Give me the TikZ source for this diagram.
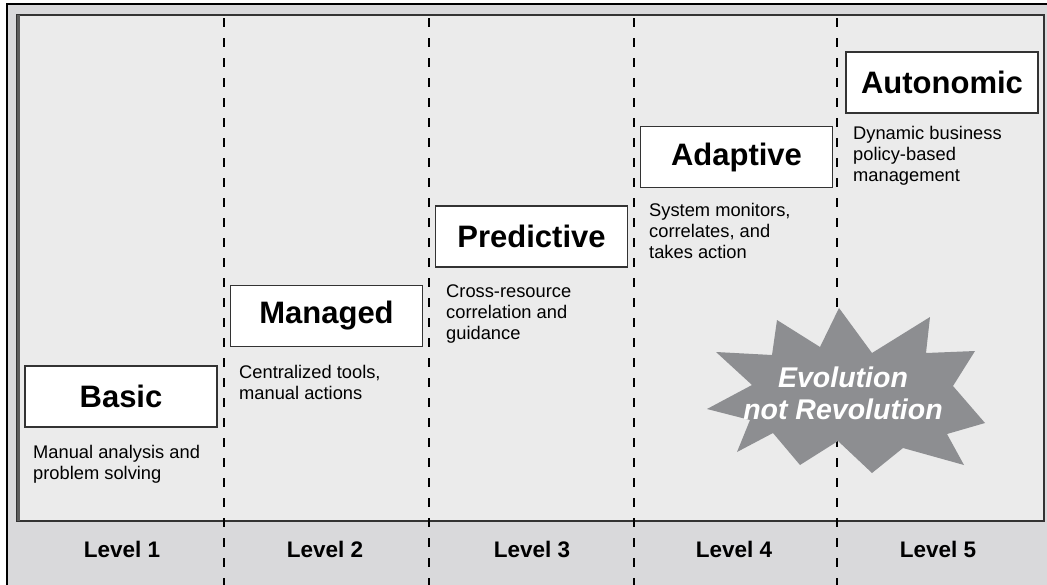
\documentclass[tikz,border=0pt]{standalone}
\usepackage{fontspec}
\setmainfont{Liberation Sans}
\definecolor{outerfill}{HTML}{D9D9DB}
\definecolor{innerfill}{HTML}{EBEBEB}
\definecolor{starfill}{HTML}{8D8E91}
\definecolor{edge}{HTML}{333333}
\begin{document}
\begin{tikzpicture}[x=1pt,y=-1pt,
  levelbox/.style={draw=edge,line width=1.4pt,fill=white,minimum width=192pt,minimum height=61pt,inner sep=0pt,
     font=\fontsize{31}{35}\selectfont\bfseries},
  desc/.style={anchor=north west,inner sep=0pt,align=left,font=\fontsize{18.3}{21}\selectfont},
  levellabel/.style={inner sep=0pt,font=\fontsize{22.5}{26}\selectfont\bfseries},
  divider/.style={line width=2pt,dash pattern=on 9pt off 11pt}]
\useasboundingbox (0,0) rectangle (1047,584);
\clip (0,0) rectangle (1047,584);
% outer frame
\draw[fill=outerfill,line width=1.5pt,draw=black] (7,4) rectangle (1060,600);
% inner panel
\draw[fill=innerfill,line width=1.5pt,draw=edge] (17,15) rectangle (1044,521);
\draw[line width=3pt,draw=edge!80] (18,15) -- (18,521);
% dividers
\foreach \x/\n in {224/d1,429/d2,634/d3,837/d4}{
  \coordinate (\n top) at (\x,18);
  \coordinate (\n bot) at (\x,590);
  \draw[divider] (\n top) -- (\n bot);
}
% level boxes
\node[levelbox] (basic) at (121,396.5) {Basic};
\node[levelbox] (managed) at (326.5,316) {Managed};
\node[levelbox] (predictive) at (531.5,236.5) {Predictive};
\node[levelbox] (adaptive) at (736.5,157) {Adaptive};
\node[levelbox] (autonomic) at (942,82.5) {Autonomic};
% descriptions
\node[desc] (basicd) at (33,445) {Manual analysis and\\problem solving};
\node[desc] (managedd) at (239,365) {Centralized tools,\\manual actions};
\node[desc] (predictived) at (446,285) {Cross-resource\\correlation and\\guidance};
\node[desc] (adaptived) at (649,203) {System monitors,\\correlates, and\\takes action};
\node[desc] (autonomicd) at (853,126) {Dynamic business\\policy-based\\management};
% level labels
\node[levellabel] (l1) at (122,549) {Level 1};
\node[levellabel] (l2) at (325,549) {Level 2};
\node[levellabel] (l3) at (532,549) {Level 3};
\node[levellabel] (l4) at (734,549) {Level 4};
\node[levellabel] (l5) at (938,549) {Level 5};
% starburst
\fill[starfill] (839,308) -- (872,353) -- (930,317) -- (926,353) -- (975,351) -- (953,386)
  -- (985,423) -- (947,434) -- (964,465) -- (903,448) -- (872,473) -- (838,441)
  -- (800,465) -- (773,433) -- (737,452) -- (750,420) -- (707,409) -- (752,385)
  -- (716,352) -- (772,355) -- (777,320) -- (820,347) -- cycle;
\node[inner sep=0pt,align=center,text=white,font=\fontsize{28.5}{32}\selectfont\bfseries\itshape] (evo) at (843,393) {Evolution\\not Revolution};
\end{tikzpicture}
\end{document}
